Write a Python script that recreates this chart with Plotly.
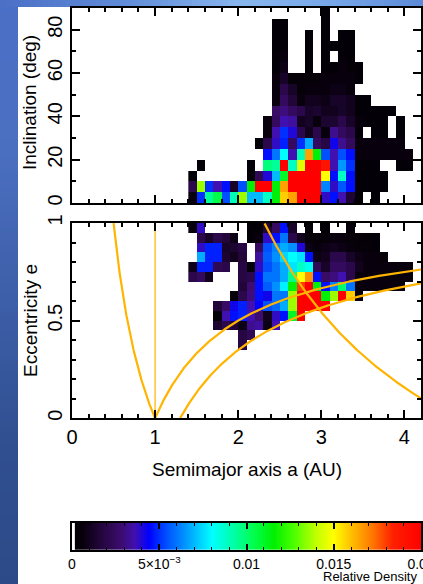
import numpy as np
import plotly.graph_objects as go

# ---------------------------------------------------------------------------
# Binned orbital distribution (relative density, in units of 1e-3)
# ---------------------------------------------------------------------------
a_edges = [1.4, 1.5, 1.6, 1.7, 1.8, 1.9, 2.0, 2.1, 2.2, 2.3, 2.4, 2.5, 2.6, 2.7, 2.8,
           2.9, 3.0, 3.1, 3.2, 3.3, 3.4, 3.5, 3.6, 3.7, 3.8, 3.9, 4.0, 4.1, 4.2]
inc_edges = [0, 5, 10, 15, 20, 25, 30, 35, 40, 45, 50, 55, 60, 65, 70, 75, 80, 85, 90]
ecc_edges = [0.35, 0.40, 0.45, 0.50, 0.55, 0.60, 0.65, 0.70, 0.75, 0.80, 0.85, 0.90, 0.95, 1.00]

_ = None
# rows: inclination bins from 0 deg upward; columns: a bins from 1.4 AU
density_a_i = [
    [0.6, 5.0, 9.4, 10.5, 5.4, 9.0, 13.6, 7.0, 7.0, 8.8, 11.5, 15.8, 16.5, 20, 20, 20, 3.8, 4.6, 3.6, 1.5, 0.4, _, 0.4, _, _, _, _, _],
    [2.0, 13.6, 5.0, 3.6, 4.6, 1.2, 5.4, 11.5, 20, 20, 11.5, 16.5, 20, 20, 20, 20, 6.2, 3.8, 5.5, 4.6, 0.4, 0.4, 0.4, 0.4, _, _, _, _],
    [0.4, _, _, _, _, _, _, 0.4, 2.2, 4.0, 7.0, 11.0, 20, 20, 20, 20, 15.0, 4.6, 8.8, 4.6, 0.4, 0.4, 0.4, 0.4, _, _, _, _],
    [_, 0.4, _, _, _, _, _, 0.4, _, 9.8, 9.4, 20, 8.8, 14.5, 20, 20, 19.0, 3.6, 6.5, 5.0, 0.4, 0.4, 0.4, _, _, 0.4, 0.4, _],
    [_, _, _, _, _, _, _, _, _, 4.6, 6.0, 8.0, 3.6, 9.0, 16.5, 11.5, 5.4, 3.6, 5.4, 4.6, 0.6, 0.6, 0.6, 0.6, 0.6, 0.6, 0.6, _],
    [_, _, _, _, _, _, _, _, 0.4, 2.0, 3.8, 4.8, 2.4, 5.0, 6.8, 2.4, 1.8, 4.2, 3.2, 2.4, 0.6, 0.6, 0.6, 0.6, 0.6, 0.6, _, _],
    [_, _, _, _, _, _, _, _, _, 0.6, 3.6, 5.0, 4.0, 2.0, 1.0, 2.0, 0.6, 3.2, 2.4, 2.0, 0.4, _, 0.4, 0.4, _, 0.4, _, _],
    [_, _, _, _, _, _, _, _, _, 0.6, 2.4, 3.6, 3.4, 1.0, 1.2, 0.6, 1.4, 1.4, 2.0, 1.2, 0.6, 0.4, 0.4, 0.4, _, 0.4, _, _],
    [_, _, _, _, _, _, _, _, _, _, 2.6, 3.0, 2.4, 2.0, 1.2, 1.4, 1.0, 1.0, 1.2, 1.0, 0.4, 0.4, 0.4, 0.4, 0.4, _, _, _],
    [_, _, _, _, _, _, _, _, _, _, 0.6, 2.4, 1.6, 0.6, 1.0, 1.0, 0.8, 1.2, 1.2, 1.0, 0.4, 0.4, _, _, _, _, _, _],
    [_, _, _, _, _, _, _, _, _, _, 0.6, 2.0, 1.2, 0.5, 0.6, 0.6, 0.6, 0.8, 0.8, 0.6, _, _, _, _, _, _, _, _],
    [_, _, _, _, _, _, _, _, _, _, 0.6, 1.2, 0.5, 0.5, 0.5, 0.5, 0.6, 0.6, 0.6, 0.6, 0.4, _, _, _, _, _, _, _],
    [_, _, _, _, _, _, _, _, _, _, 0.4, 0.8, _, _, 0.4, _, 0.4, 0.4, 0.6, 0.5, 0.4, _, _, _, _, _, _, _],
    [_, _, _, _, _, _, _, _, _, _, 0.4, 0.6, _, _, 0.4, _, 0.4, _, 0.5, 0.4, _, _, _, _, _, _, _, _],
    [_, _, _, _, _, _, _, _, _, _, 0.4, 0.4, _, _, 0.4, _, 0.4, 0.4, 0.4, 0.4, _, _, _, _, _, _, _, _],
    [_, _, _, _, _, _, _, _, _, _, 0.4, 0.4, _, _, 0.4, _, 0.4, _, 0.4, 0.4, _, _, _, _, _, _, _, _],
    [_, _, _, _, _, _, _, _, _, _, 0.4, 0.4, _, _, _, _, 0.4, _, _, _, _, _, _, _, _, _, _, _],
    [_, _, _, _, _, _, _, _, _, _, _, _, _, _, _, _, 0.4, _, _, _, _, _, _, _, _, _, _, _],
]

# rows: eccentricity bins from 0.35 upward; columns: a bins from 1.4 AU
density_a_e = [
    [_, _, _, _, _, _, 1.8, _, _, _, _, _, _, _, _, _, _, _, _, _, _, _, _, _, _, _, _, _],
    [_, _, _, _, _, _, 1.8, 2.2, _, _, _, _, _, _, _, _, _, _, _, _, _, _, _, _, _, _, _, _],
    [_, _, _, 1.4, 2.0, 1.6, 0.8, 3.2, 3.4, 0.8, 3.6, _, _, _, _, _, _, _, _, _, _, _, _, _, _, _, _, _],
    [_, _, _, 0.4, 3.6, 4.6, 4.8, 3.6, 2.8, 1.0, 3.8, 4.6, 11.0, 20, _, _, _, _, _, _, _, _, _, _, _, _, _, _],
    [_, _, _, 1.6, 2.6, 4.2, 4.8, 3.6, 4.4, 5.4, 5.8, 6.8, 13.6, 20, 20, 20, 20, _, _, _, _, _, _, _, _, _, _, _],
    [_, _, _, _, _, 0.5, 2.0, 3.0, 4.6, 4.2, 6.0, 6.0, 13.6, 20, 20, 20, 11.5, 13.6, 20, 15.8, 0.6, _, _, _, _, _, _, _],
    [_, _, _, _, _, _, 1.6, 2.8, 4.6, 5.6, 6.4, 7.8, 11.5, 18.0, 20, 11.5, 4.6, 6.2, 10.0, 6.0, 0.6, 0.6, 0.6, 0.6, 0.6, 0.6, _, _],
    [2.0, 2.4, 1.0, _, _, _, 1.8, 2.0, 4.6, 6.0, 6.0, 6.8, 9.6, 15.0, 16.8, 4.6, 2.6, 3.0, 3.6, 2.0, 0.6, 0.6, 0.6, 0.6, 0.6, 0.6, 0.6, _],
    [0.8, 4.8, 4.8, 2.2, 2.0, _, 1.8, 0.5, 3.8, 5.4, 6.0, 6.8, 7.6, 8.8, 8.2, 2.2, 1.2, 2.4, 2.4, 2.0, 1.0, 0.6, 0.6, 0.6, 0.6, 0.6, 0.6, _],
    [_, 6.8, 4.8, 4.8, 1.4, 1.0, 1.6, _, 3.4, 5.6, 6.4, 7.4, 8.0, 7.6, 4.6, 0.8, 1.0, 2.0, 2.0, 1.2, 0.8, 0.6, 0.6, 0.5, _, _, _, _],
    [_, 3.8, 4.8, 4.8, 1.2, 1.4, 1.8, _, 2.4, 5.4, 6.2, 6.8, 6.4, 4.0, 0.8, 0.6, 0.8, 1.0, 0.8, 0.6, 0.5, 0.5, 0.4, _, _, _, _, _],
    [_, 2.0, 1.2, 2.0, 1.6, 0.8, _, 0.4, 0.6, 3.8, 4.6, 6.0, 2.0, 1.0, 0.5, 0.5, 0.5, 0.6, 0.6, 0.5, 0.5, 0.4, 0.4, _, _, _, _, _],
    [0.6, 3.8, _, _, _, _, _, 0.4, 0.4, 1.5, 2.5, 4.6, 1.2, _, 0.4, _, 0.4, _, _, 0.4, _, _, _, _, _, _, _, _],
]

DENSITY_UNIT = 1e-3
density_max = 0.02

# Perihelion / aphelion boundaries (AU)
perihelion_q = [1.0, 1.3]
aphelion_Q = [1.0, 4.63]

# Colour bar
cbar_tickvals = [0, 0.005, 0.01, 0.015, 0.02]
cbar_ticktext = ["0", "5×10<sup>−3</sup>", "0.01", "0.015", "0.02"]

rainbow_black = [
    [0.000, "#ffffff"], [0.007, "#ffffff"], [0.008, "#000000"],
    [0.030, "#08000c"], [0.080, "#22063a"], [0.140, "#3c0c6e"],
    [0.180, "#4010b0"], [0.220, "#0000ff"], [0.270, "#0050ff"],
    [0.320, "#0090ff"], [0.360, "#00c8ff"], [0.400, "#00ffff"],
    [0.460, "#00ffa8"], [0.520, "#00ff50"], [0.580, "#00f000"],
    [0.640, "#50ff00"], [0.700, "#c0ff00"], [0.750, "#ffff00"],
    [0.800, "#ffc000"], [0.860, "#ff7800"], [0.920, "#ff2000"],
    [1.000, "#ff0000"],
]

ORANGE = "#ffb400"
FONT = "Liberation Sans"

# ---------------------------------------------------------------------------
# Page geometry (pixels)
W, H = 423, 584
ML, MR, MT, MB = 72, 2, 8, 34
PW, PH = W - ML - MR, H - MT - MB


def px_x(p):
    return (p - ML) / PW


def px_y(p):
    return (H - MB - p) / PH


def to_z(rows):
    return np.array([[np.nan if v is None else v * DENSITY_UNIT for v in r] for r in rows])


fig = go.Figure()

fig.add_trace(go.Heatmap(x=a_edges, y=inc_edges, z=to_z(density_a_i),
                         coloraxis="coloraxis", xaxis="x", yaxis="y",
                         hoverongaps=False))
fig.add_trace(go.Heatmap(x=a_edges, y=ecc_edges, z=to_z(density_a_e),
                         coloraxis="coloraxis", xaxis="x2", yaxis="y2",
                         hoverongaps=False))

# boundary curves in the a-e plane
a_grid = np.linspace(0.3, 4.3, 800)
line_style = dict(color=ORANGE, width=2.2)
for Q in aphelion_Q:
    e = Q / a_grid - 1.0
    m = (e >= 0) & (e <= 1.0)
    fig.add_trace(go.Scatter(x=a_grid[m], y=e[m], mode="lines", line=line_style,
                             xaxis="x2", yaxis="y2", hoverinfo="skip"))
for q in perihelion_q:
    e = 1.0 - q / a_grid
    m = (e >= 0) & (e <= 1.0)
    fig.add_trace(go.Scatter(x=a_grid[m], y=e[m], mode="lines", line=line_style,
                             xaxis="x2", yaxis="y2", hoverinfo="skip"))
fig.add_trace(go.Scatter(x=[1.0, 1.0], y=[0.0, 1.0], mode="lines",
                         line=dict(color="#ffbe20", width=1.4),
                         xaxis="x2", yaxis="y2", hoverinfo="skip"))

# colour bar ramp
ramp_edges = np.linspace(0, density_max, 351)
ramp_mid = 0.5 * (ramp_edges[:-1] + ramp_edges[1:])
fig.add_trace(go.Heatmap(x=ramp_edges, y=[0, 1], z=[ramp_mid],
                         coloraxis="coloraxis", xaxis="x3", yaxis="y3",
                         hoverinfo="skip"))

tickfont = dict(family=FONT, size=20, color="black")
frame = dict(showline=True, linecolor="black", linewidth=2, mirror="ticks",
             ticks="inside", tickcolor="black", tickwidth=1.5, automargin=False,
             showgrid=False, zeroline=False, tickfont=tickfont)

fig.update_layout(
    width=W, height=H,
    margin=dict(l=ML, r=MR, t=MT, b=MB, autoexpand=False),
    paper_bgcolor="white", plot_bgcolor="white",
    showlegend=False,
    coloraxis=dict(colorscale=rainbow_black, cmin=0, cmax=density_max, showscale=False),
    xaxis=dict(domain=[0, 1], range=[0, 4.2], anchor="y", showticklabels=False,
               tick0=0, dtick=1, ticklen=8,
               minor=dict(dtick=0.2, ticklen=4, ticks="inside", tickcolor="black", tickwidth=1.5),
               **frame),
    yaxis=dict(domain=[px_y(203), 1], range=[0, 90], anchor="x",
               tick0=0, dtick=20, ticklen=8, tickangle=-90,
               minor=dict(dtick=10, ticklen=4, ticks="inside", tickcolor="black", tickwidth=1.5),
               **frame),
    xaxis2=dict(domain=[0, 1], range=[0, 4.2], anchor="y2",
                tick0=0, dtick=1, ticklen=8,
                minor=dict(dtick=0.2, ticklen=4, ticks="inside", tickcolor="black", tickwidth=1.5),
                **frame),
    yaxis2=dict(domain=[px_y(418.3), px_y(223)], range=[0, 1], anchor="x2",
                tickvals=[0, 0.5, 1], ticktext=["0", "0.5", "1"], ticklen=8, tickangle=-90,
                minor=dict(dtick=0.1, ticklen=4, ticks="inside", tickcolor="black", tickwidth=1.5),
                **frame),
    xaxis3=dict(domain=[0, 1], range=[0, density_max], anchor="y3",
                tickvals=cbar_tickvals, ticktext=cbar_ticktext, ticklen=6,
                ticklabeloverflow="allow",
                minor=dict(dtick=0.001, ticklen=3, ticks="inside", tickcolor="black", tickwidth=1.2),
                **{**frame, "tickfont": dict(family=FONT, size=14, color="black")}),
    yaxis3=dict(domain=[0, px_y(522.7)], range=[0, 1], anchor="x3",
                showticklabels=False, showline=True, linecolor="black", linewidth=2,
                mirror=True, ticks="", showgrid=False, zeroline=False, automargin=False),
)

# axis titles
title_font = dict(family=FONT, size=19, color="black")
fig.add_annotation(text="Semimajor axis a (AU)", xref="paper", yref="paper",
                   x=px_x(246.5), y=px_y(469), showarrow=False, font=title_font,
                   xanchor="center", yanchor="middle")
fig.add_annotation(text="Inclination (deg)", xref="paper", yref="paper",
                   x=px_x(30), y=px_y(103), showarrow=False, font=title_font,
                   textangle=-90, xanchor="center", yanchor="middle")
fig.add_annotation(text="Eccentricity e", xref="paper", yref="paper",
                   x=px_x(30), y=px_y(321), showarrow=False, font=title_font,
                   textangle=-90, xanchor="center", yanchor="middle")
fig.add_annotation(text="Relative Density", xref="paper", yref="paper",
                   x=px_x(419), y=px_y(576.5), showarrow=False,
                   font=dict(family=FONT, size=13, color="black"),
                   xanchor="right", yanchor="middle")

# slide backdrop: blue gradient strips on the left and top edges


def mix(stops, t):
    for (t0, c0), (t1, c1) in zip(stops[:-1], stops[1:]):
        if t0 <= t <= t1:
            f = (t - t0) / (t1 - t0) if t1 > t0 else 0
            c0 = [int(c0[i:i + 2], 16) for i in (1, 3, 5)]
            c1 = [int(c1[i:i + 2], 16) for i in (1, 3, 5)]
            return "rgb(%d,%d,%d)" % tuple(round(a + (b - a) * f) for a, b in zip(c0, c1))
    return stops[-1][1]


left_stops = [(0, "#4a6fc6"), (150, "#4b6fc0"), (300, "#3d5ea8"), (450, "#304f90"), (584, "#2d4a88")]
top_stops = [(0, "#4a6fc6"), (120, "#5f8ad6"), (240, "#88b6ee"), (330, "#78a8ea"), (423, "#5c8ad8")]
STRIP_L, STRIP_T = 18, 7
step = 6
for y0 in range(0, H, step):
    fig.add_shape(type="rect", xref="paper", yref="paper",
                  x0=px_x(0), x1=px_x(STRIP_L), y0=px_y(y0), y1=px_y(min(y0 + step + 1, H)),
                  fillcolor=mix(left_stops, y0 + step / 2), line_width=0, layer="below")
for x0 in range(0, W, step):
    fig.add_shape(type="rect", xref="paper", yref="paper",
                  x0=px_x(x0), x1=px_x(min(x0 + step + 1, W)), y0=px_y(0), y1=px_y(STRIP_T),
                  fillcolor=mix(top_stops, x0 + step / 2), line_width=0, layer="below")

fig.write_html("out.html")
